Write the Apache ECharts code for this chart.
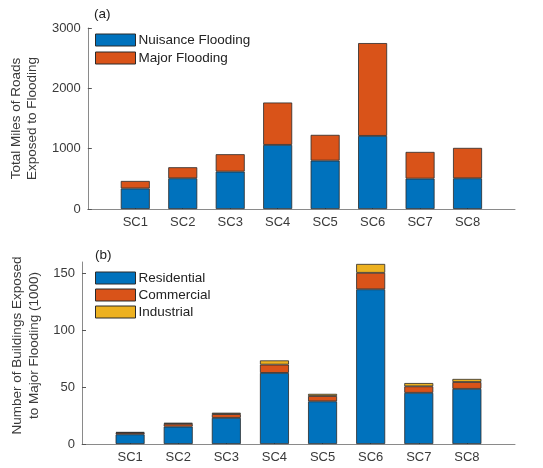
<!DOCTYPE html>
<html>
<head>
<meta charset="utf-8">
<script src="https://cdn.jsdelivr.net/npm/echarts@6/dist/echarts.min.js"></script>
<style>html,body{margin:0;padding:0;background:#fff}#c{width:543px;height:468px}</style>
</head>
<body>
<div id="c"></div>
<script>
var categories = ['SC1','SC2','SC3','SC4','SC5','SC6','SC7','SC8'];
var nuisanceFlooding = [340, 509, 620, 1063, 802, 1212, 504, 509];
var majorFlooding = [125, 183, 288, 702, 427, 1538, 442, 504];
var residential = [8.5, 15.3, 23.0, 62.5, 37.5, 136.0, 45.0, 48.5];
var commercial = [1.4, 2.4, 3.3, 7.3, 4.7, 14.5, 5.7, 6.0];
var industrial = [0.6, 1.0, 1.2, 3.7, 1.9, 7.8, 2.9, 2.7];
var topTicks = [0, 1000, 2000, 3000];
var bottomTicks = [0, 50, 100, 150];

var axisCats = [''].concat(categories).concat(['']);
function pad(a){ return ['-'].concat(a).concat(['-']); }

var font = 'Liberation Sans, Arial, Helvetica, sans-serif';
var axisGray = '#8a8a8a';
var textGray = '#3a3a3a';
var edge = {borderColor:'#2a2a2a', borderWidth:0.8};

function xAx(gi){
  return {
    type:'category', gridIndex:gi, data:axisCats, boundaryGap:false,
    axisLine:{show:true, lineStyle:{color:axisGray, width:1}},
    axisTick:{show:true, inside:true, length:4, lineStyle:{color:'#555'},
      interval:function(i, v){ return v !== ''; }},
    axisLabel:{color:textGray, fontSize:13, fontFamily:font, margin:7, interval:0},
    splitLine:{show:false}
  };
}
function yAx(gi, max, ticks, name, gap, padd){
  return {
    type:'value', gridIndex:gi, min:0, max:max,
    name:name, nameLocation:'middle', nameGap:gap, nameRotate:90,
    nameTextStyle:{color:textGray, fontSize:13.5, fontFamily:font, lineHeight:16.5, padding:padd},
    axisLine:{show:true, lineStyle:{color:axisGray, width:1}},
    axisTick:{show:true, inside:true, length:4, lineStyle:{color:'#555'}, customValues:ticks},
    axisLabel:{color:textGray, fontSize:13, fontFamily:font, margin:7, customValues:ticks,
      formatter:function(v){ return String(v); }},
    splitLine:{show:false}
  };
}

var chart = echarts.init(document.getElementById('c'), null, {renderer:'canvas'});
chart.setOption({
  animation:false,
  backgroundColor:'#fff',
  textStyle:{fontFamily:font},
  grid:[
    {left:82, width:433, top:28, height:181},
    {left:82, width:433, top:262, height:182}
  ],
  xAxis:[xAx(0), xAx(1)],
  yAxis:[
    yAx(0, 3000, topTicks, 'Total Miles of Roads\nExposed to Flooding', 39, [0,0,0,0]),
    yAx(1, 160, bottomTicks, 'Number of Buildings Exposed\nto Major Flooding (1000)', 30, [0,0,0,15])
  ],
  legend:[
    {data:['Nuisance Flooding','Major Flooding'], orient:'vertical', left:95, top:33, padding:0,
     itemWidth:40, itemHeight:12, itemGap:4, icon:'rect',
     itemStyle:{borderColor:'#2a2a2a', borderWidth:1},
     textStyle:{color:'#222', fontSize:13.5, fontFamily:font, padding:[0,0,0,-2]}},
    {data:['Residential','Commercial','Industrial'], orient:'vertical', left:95, top:271, padding:0,
     itemWidth:40, itemHeight:12, itemGap:3, icon:'rect',
     itemStyle:{borderColor:'#2a2a2a', borderWidth:1},
     textStyle:{color:'#222', fontSize:13.5, fontFamily:font, padding:[0,0,0,-2]}}
  ],
  graphic:[
    {type:'text', left:94, top:7, style:{text:'(a)', fill:'#222', font:'13.5px Liberation Sans, Arial, sans-serif'}},
    {type:'text', left:95, top:248, style:{text:'(b)', fill:'#222', font:'13.5px Liberation Sans, Arial, sans-serif'}}
  ],
  series:[
    {name:'Nuisance Flooding', type:'bar', stack:'a', xAxisIndex:0, yAxisIndex:0, barWidth:29,
     data:pad(nuisanceFlooding), itemStyle:Object.assign({color:'#0072BD'}, edge)},
    {name:'Major Flooding', type:'bar', stack:'a', xAxisIndex:0, yAxisIndex:0, barWidth:29,
     data:pad(majorFlooding), itemStyle:Object.assign({color:'#D95319'}, edge)},
    {name:'Residential', type:'bar', stack:'b', xAxisIndex:1, yAxisIndex:1, barWidth:29,
     data:pad(residential), itemStyle:Object.assign({color:'#0072BD'}, edge)},
    {name:'Commercial', type:'bar', stack:'b', xAxisIndex:1, yAxisIndex:1, barWidth:29,
     data:pad(commercial), itemStyle:Object.assign({color:'#D95319'}, edge)},
    {name:'Industrial', type:'bar', stack:'b', xAxisIndex:1, yAxisIndex:1, barWidth:29,
     data:pad(industrial), itemStyle:Object.assign({color:'#EDB120'}, edge)}
  ]
});
</script>
</body>
</html>
